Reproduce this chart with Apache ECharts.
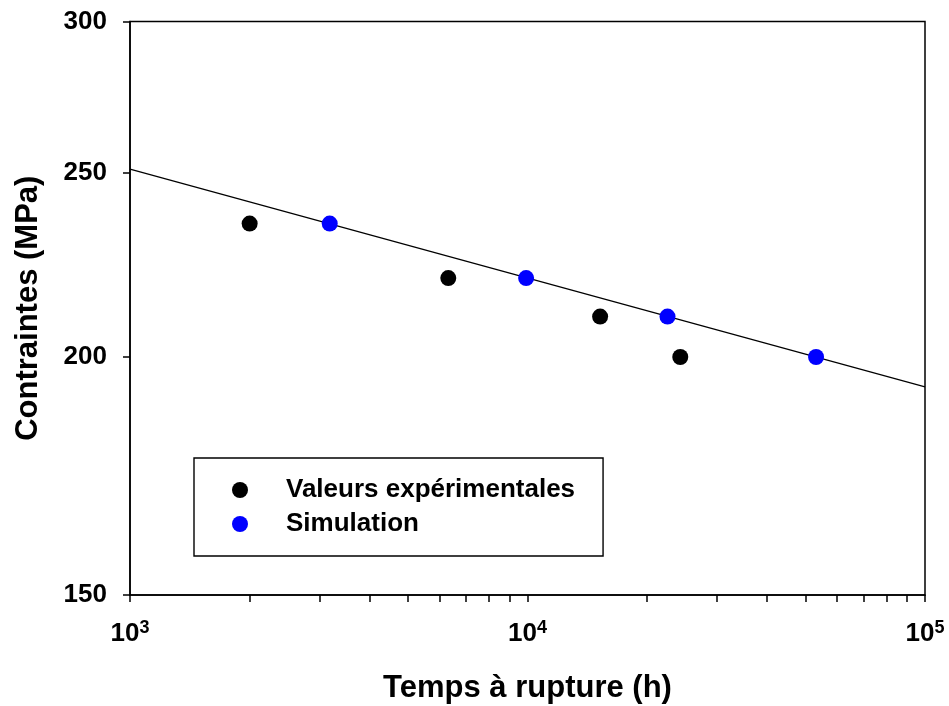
<!DOCTYPE html>
<html>
<head>
<meta charset="utf-8">
<script src="https://cdn.jsdelivr.net/npm/echarts@6/dist/echarts.min.js"></script>
<style>
html,body{margin:0;padding:0;background:#fff;}
#chart{width:949px;height:706px;}
</style>
</head>
<body>
<div id="chart"></div>
<script>
// Data
const expTime = [2000, 6320, 15230, 24230];
const expStress = [235, 220, 210, 200];
const simTime = [3180, 9920, 22500, 53200];
const simStress = [235, 220, 210, 200];
const fitTime = [1000, 100000];
const fitStress = [251, 192.9];

const xMajorTicks = [1000, 10000, 100000];
const xMinorTicks = [1000,2000,3000,4000,5000,6000,7000,8000,9000,
                     10000,20000,30000,40000,50000,60000,70000,80000,90000,100000];
const yTicks = [150, 200, 250, 300];

const FONT = '"Liberation Sans", Arial, Helvetica, sans-serif';

function pairs(xs, ys) { return xs.map((x, i) => [x, ys[i]]); }

const chart = echarts.init(document.getElementById('chart'), null, {renderer: 'canvas'});
chart.setOption({
  animation: false,
  backgroundColor: '#ffffff',
  textStyle: {fontFamily: FONT},
  grid: {
    left: 130, right: 24, top: 21.5, bottom: 111,
    outerBoundsMode: 'none',
    containLabel: false,
    show: true, borderColor: '#000', borderWidth: 1.5, backgroundColor: 'transparent'
  },
  legend: {
    orient: 'vertical',
    left: 194, top: 458,
    data: ['Valeurs expérimentales', 'Simulation'],
    icon: 'circle',
    itemWidth: 16, itemHeight: 16,
    itemGap: 4,
    padding: [17, 28, 17, 38],
    borderColor: '#000', borderWidth: 1.4,
    itemStyle: {opacity: 1},
    textStyle: {fontFamily: FONT, fontSize: 26, fontWeight: 'bold', color: '#000', lineHeight: 30, padding: [0, 0, 0, 33]},
    selectedMode: false
  },
  xAxis: {
    type: 'log', logBase: 10, min: 1000, max: 100000,
    name: 'Temps à rupture (h)', nameLocation: 'middle', nameGap: 78,
    nameTextStyle: {fontFamily: FONT, fontSize: 31, fontWeight: 'bold', color: '#000'},
    axisLine: {show: true, lineStyle: {color: '#000', width: 1.5}},
    axisTick: {show: true, inside: false, length: 7, customValues: xMinorTicks, lineStyle: {color: '#000', width: 1.5}},
    minorTick: {show: false},
    splitLine: {show: false},
    axisLabel: {
      customValues: xMajorTicks,
      margin: 24,
      color: '#000',
      formatter: function (v) {
        const e = Math.round(Math.log10(v));
        return '{b|10}{s|' + e + '}';
      },
      rich: {
        b: {fontFamily: FONT, fontSize: 26, fontWeight: 'bold', color: '#000'},
        s: {fontFamily: FONT, fontSize: 18, fontWeight: 'bold', color: '#000', padding: [0, 0, 12, 0]}
      }
    }
  },
  yAxis: {
    type: 'log', logBase: 10, min: 150, max: 300,
    name: 'Contraintes (MPa)', nameLocation: 'middle', nameGap: 86,
    nameTextStyle: {fontFamily: FONT, fontSize: 31, fontWeight: 'bold', color: '#000'},
    axisLine: {show: true, lineStyle: {color: '#000', width: 1.5}},
    axisTick: {show: true, inside: false, length: 7, customValues: yTicks, lineStyle: {color: '#000', width: 1.5}},
    minorTick: {show: false},
    splitLine: {show: false},
    axisLabel: {
      customValues: yTicks,
      margin: 23,
      fontFamily: FONT, fontSize: 26, fontWeight: 'bold', color: '#000',
      formatter: function (v) { return String(Math.round(v)); }
    }
  },
  series: [
    {
      name: 'fit', type: 'line', data: pairs(fitTime, fitStress),
      symbol: 'none', silent: true,
      lineStyle: {color: '#000', width: 1.2}, z: 1
    },
    {
      name: 'Valeurs expérimentales', type: 'scatter', data: pairs(expTime, expStress),
      symbol: 'circle', symbolSize: 16, itemStyle: {color: '#000000', opacity: 1}, z: 3
    },
    {
      name: 'Simulation', type: 'scatter', data: pairs(simTime, simStress),
      symbol: 'circle', symbolSize: 16, itemStyle: {color: '#0000ff', opacity: 1}, z: 3
    }
  ]
});
</script>
</body>
</html>
